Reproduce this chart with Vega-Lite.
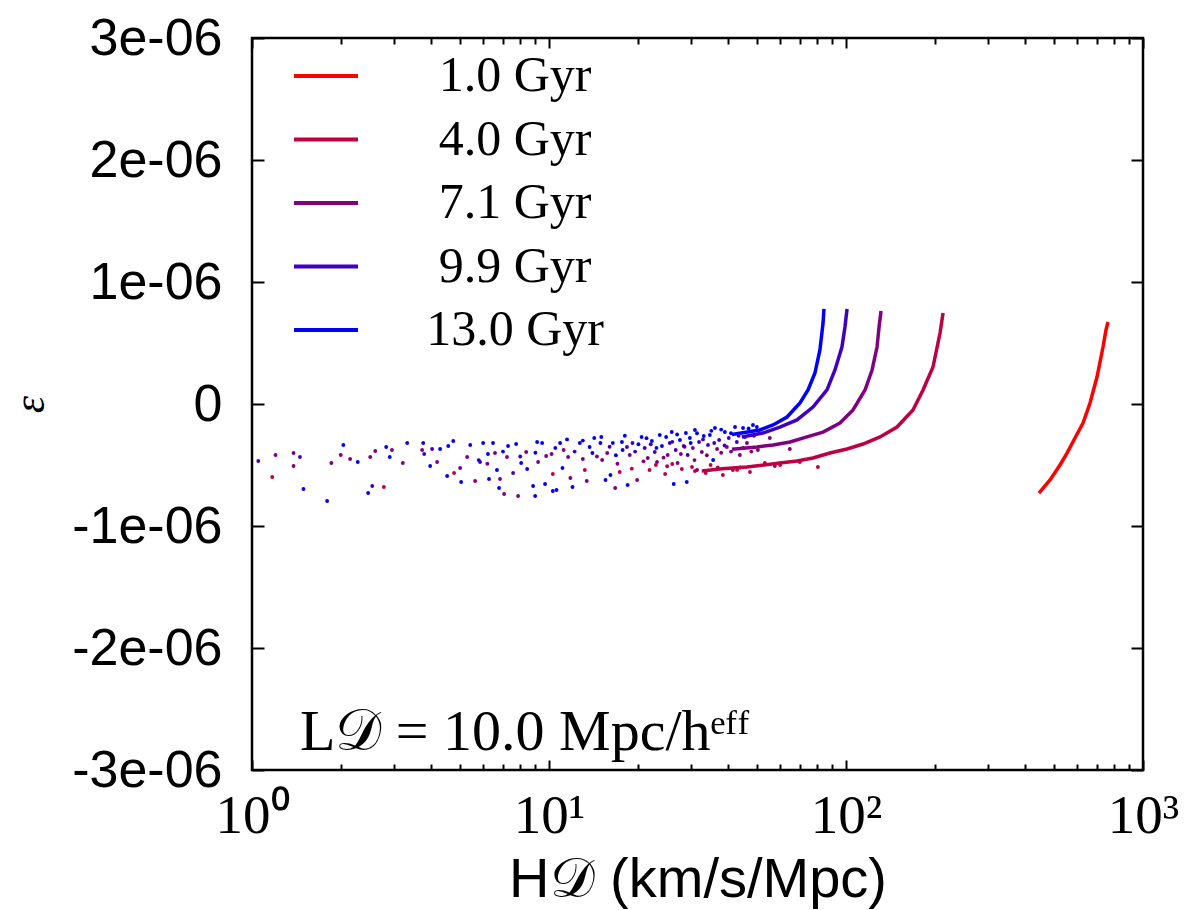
{
  "$schema": "https://vega.github.io/schema/vega-lite/v6.json",
  "width": 891,
  "height": 732,
  "autosize": {"type": "none"},
  "padding": {"left": 252, "top": 38, "right": 43, "bottom": 140},
  "background": "white",
  "config": {
    "font": "Liberation Sans",
    "view": {"stroke": "black", "strokeWidth": 2.5},
    "axis": {"grid": false, "domain": false, "tickColor": "black", "tickWidth": 2, "labelColor": "black", "titleColor": "black"}
  },
  "datasets": {
    "curves": [
      {"age": "1.0 Gyr", "H": 446.3, "eps": -7.30e-7},
      {"age": "1.0 Gyr", "H": 486.3, "eps": -6.23e-7},
      {"age": "1.0 Gyr", "H": 525.5, "eps": -5.00e-7},
      {"age": "1.0 Gyr", "H": 554.8, "eps": -4.02e-7},
      {"age": "1.0 Gyr", "H": 590.2, "eps": -2.79e-7},
      {"age": "1.0 Gyr", "H": 628.1, "eps": -1.56e-7},
      {"age": "1.0 Gyr", "H": 663.1, "eps": 0.08e-7},
      {"age": "1.0 Gyr", "H": 700.0, "eps": 2.21e-7},
      {"age": "1.0 Gyr", "H": 716.5, "eps": 3.44e-7},
      {"age": "1.0 Gyr", "H": 733.4, "eps": 4.67e-7},
      {"age": "1.0 Gyr", "H": 750.6, "eps": 6.07e-7},
      {"age": "1.0 Gyr", "H": 762.4, "eps": 6.72e-7},
      {"age": "4.0 Gyr", "H": 32.7, "eps": -5.5e-7},
      {"age": "4.0 Gyr", "H": 38.2, "eps": -5.3e-7},
      {"age": "4.0 Gyr", "H": 46.4, "eps": -5.16e-7},
      {"age": "4.0 Gyr", "H": 59.9, "eps": -4.84e-7},
      {"age": "4.0 Gyr", "H": 68.4, "eps": -4.67e-7},
      {"age": "4.0 Gyr", "H": 77.4, "eps": -4.43e-7},
      {"age": "4.0 Gyr", "H": 88.3, "eps": -4.02e-7},
      {"age": "4.0 Gyr", "H": 100.8, "eps": -3.69e-7},
      {"age": "4.0 Gyr", "H": 114.1, "eps": -3.28e-7},
      {"age": "4.0 Gyr", "H": 130.2, "eps": -2.70e-7},
      {"age": "4.0 Gyr", "H": 148.5, "eps": -1.89e-7},
      {"age": "4.0 Gyr", "H": 168.1, "eps": -0.49e-7},
      {"age": "4.0 Gyr", "H": 181.7, "eps": 1.15e-7},
      {"age": "4.0 Gyr", "H": 196.3, "eps": 3.03e-7},
      {"age": "4.0 Gyr", "H": 207.3, "eps": 5.82e-7},
      {"age": "4.0 Gyr", "H": 212.2, "eps": 7.46e-7},
      {"age": "7.1 Gyr", "H": 41.3, "eps": -3.7e-7},
      {"age": "7.1 Gyr", "H": 50.2, "eps": -3.52e-7},
      {"age": "7.1 Gyr", "H": 56.8, "eps": -3.36e-7},
      {"age": "7.1 Gyr", "H": 64.8, "eps": -3.11e-7},
      {"age": "7.1 Gyr", "H": 73.9, "eps": -2.70e-7},
      {"age": "7.1 Gyr", "H": 83.7, "eps": -2.30e-7},
      {"age": "7.1 Gyr", "H": 95.4, "eps": -1.56e-7},
      {"age": "7.1 Gyr", "H": 105.6, "eps": -0.49e-7},
      {"age": "7.1 Gyr", "H": 115.9, "eps": 1.15e-7},
      {"age": "7.1 Gyr", "H": 122.4, "eps": 2.79e-7},
      {"age": "7.1 Gyr", "H": 127.2, "eps": 4.67e-7},
      {"age": "7.1 Gyr", "H": 129.2, "eps": 6.31e-7},
      {"age": "7.1 Gyr", "H": 131.2, "eps": 7.62e-7},
      {"age": "9.9 Gyr", "H": 44.6, "eps": -2.7e-7},
      {"age": "9.9 Gyr", "H": 52.5, "eps": -2.38e-7},
      {"age": "9.9 Gyr", "H": 59.9, "eps": -1.89e-7},
      {"age": "9.9 Gyr", "H": 68.4, "eps": -1.31e-7},
      {"age": "9.9 Gyr", "H": 77.4, "eps": -0.25e-7},
      {"age": "9.9 Gyr", "H": 86.3, "eps": 1.15e-7},
      {"age": "9.9 Gyr", "H": 91.8, "eps": 2.79e-7},
      {"age": "9.9 Gyr", "H": 96.9, "eps": 4.67e-7},
      {"age": "9.9 Gyr", "H": 99.2, "eps": 6.31e-7},
      {"age": "9.9 Gyr", "H": 100.8, "eps": 7.79e-7},
      {"age": "13.0 Gyr", "H": 41.3, "eps": -2.5e-7},
      {"age": "13.0 Gyr", "H": 51.3, "eps": -2.13e-7},
      {"age": "13.0 Gyr", "H": 56.8, "eps": -1.72e-7},
      {"age": "13.0 Gyr", "H": 63.3, "eps": -1.07e-7},
      {"age": "13.0 Gyr", "H": 70.0, "eps": 0.08e-7},
      {"age": "13.0 Gyr", "H": 74.5, "eps": 1.15e-7},
      {"age": "13.0 Gyr", "H": 78.6, "eps": 2.54e-7},
      {"age": "13.0 Gyr", "H": 81.7, "eps": 4.43e-7},
      {"age": "13.0 Gyr", "H": 83.7, "eps": 6.64e-7},
      {"age": "13.0 Gyr", "H": 84.3, "eps": 7.79e-7}
    ],
    "scatter": [
      {"age": "9.9 Gyr", "H": 1.05, "eps": -4.67e-7},
      {"age": "4.0 Gyr", "H": 1.17, "eps": -5.98e-7},
      {"age": "7.1 Gyr", "H": 1.20, "eps": -4.18e-7},
      {"age": "7.1 Gyr", "H": 1.38, "eps": -4.02e-7},
      {"age": "7.1 Gyr", "H": 1.38, "eps": -5.08e-7},
      {"age": "9.9 Gyr", "H": 1.45, "eps": -4.34e-7},
      {"age": "13.0 Gyr", "H": 1.49, "eps": -6.97e-7},
      {"age": "13.0 Gyr", "H": 1.79, "eps": -7.95e-7},
      {"age": "7.1 Gyr", "H": 1.85, "eps": -4.84e-7},
      {"age": "7.1 Gyr", "H": 1.99, "eps": -4.18e-7},
      {"age": "13.0 Gyr", "H": 2.03, "eps": -3.36e-7},
      {"age": "7.1 Gyr", "H": 2.14, "eps": -4.51e-7},
      {"age": "13.0 Gyr", "H": 2.27, "eps": -4.75e-7},
      {"age": "13.0 Gyr", "H": 2.46, "eps": -7.30e-7},
      {"age": "7.1 Gyr", "H": 2.50, "eps": -4.34e-7},
      {"age": "9.9 Gyr", "H": 2.54, "eps": -6.72e-7},
      {"age": "7.1 Gyr", "H": 2.60, "eps": -3.85e-7},
      {"age": "4.0 Gyr", "H": 2.78, "eps": -6.80e-7},
      {"age": "13.0 Gyr", "H": 2.83, "eps": -3.52e-7},
      {"age": "13.0 Gyr", "H": 2.91, "eps": -4.34e-7},
      {"age": "7.1 Gyr", "H": 2.96, "eps": -3.77e-7},
      {"age": "7.1 Gyr", "H": 3.22, "eps": -4.84e-7},
      {"age": "13.0 Gyr", "H": 3.33, "eps": -3.20e-7},
      {"age": "7.1 Gyr", "H": 3.74, "eps": -3.77e-7},
      {"age": "13.0 Gyr", "H": 3.77, "eps": -3.20e-7},
      {"age": "9.9 Gyr", "H": 3.80, "eps": -4.10e-7},
      {"age": "13.0 Gyr", "H": 3.98, "eps": -5.08e-7},
      {"age": "9.9 Gyr", "H": 4.04, "eps": -3.69e-7},
      {"age": "7.1 Gyr", "H": 4.20, "eps": -4.75e-7},
      {"age": "13.0 Gyr", "H": 4.30, "eps": -3.69e-7},
      {"age": "13.0 Gyr", "H": 4.54, "eps": -5.90e-7},
      {"age": "13.0 Gyr", "H": 4.58, "eps": -3.44e-7},
      {"age": "13.0 Gyr", "H": 4.76, "eps": -3.03e-7},
      {"age": "4.0 Gyr", "H": 4.79, "eps": -5.66e-7},
      {"age": "7.1 Gyr", "H": 5.02, "eps": -5.25e-7},
      {"age": "13.0 Gyr", "H": 5.06, "eps": -6.39e-7},
      {"age": "7.1 Gyr", "H": 5.30, "eps": -4.34e-7},
      {"age": "13.0 Gyr", "H": 5.43, "eps": -3.36e-7},
      {"age": "7.1 Gyr", "H": 5.64, "eps": -6.31e-7},
      {"age": "13.0 Gyr", "H": 5.80, "eps": -4.60e-7},
      {"age": "9.9 Gyr", "H": 5.86, "eps": -4.75e-7},
      {"age": "13.0 Gyr", "H": 6.00, "eps": -3.20e-7},
      {"age": "7.1 Gyr", "H": 6.20, "eps": -4.90e-7},
      {"age": "13.0 Gyr", "H": 6.23, "eps": -4.10e-7},
      {"age": "13.0 Gyr", "H": 6.28, "eps": -6.15e-7},
      {"age": "13.0 Gyr", "H": 6.48, "eps": -3.20e-7},
      {"age": "7.1 Gyr", "H": 6.58, "eps": -4.02e-7},
      {"age": "13.0 Gyr", "H": 6.68, "eps": -5.41e-7},
      {"age": "13.0 Gyr", "H": 6.79, "eps": -6.89e-7},
      {"age": "7.1 Gyr", "H": 6.84, "eps": -6.15e-7},
      {"age": "13.0 Gyr", "H": 7.00, "eps": -3.90e-7},
      {"age": "7.1 Gyr", "H": 7.06, "eps": -7.38e-7},
      {"age": "7.1 Gyr", "H": 7.22, "eps": -4.34e-7},
      {"age": "13.0 Gyr", "H": 7.28, "eps": -3.44e-7},
      {"age": "9.9 Gyr", "H": 7.57, "eps": -5.66e-7},
      {"age": "13.0 Gyr", "H": 7.75, "eps": -3.28e-7},
      {"age": "7.1 Gyr", "H": 7.87, "eps": -7.54e-7},
      {"age": "9.9 Gyr", "H": 8.00, "eps": -4.30e-7},
      {"age": "13.0 Gyr", "H": 8.06, "eps": -4.84e-7},
      {"age": "7.1 Gyr", "H": 8.38, "eps": -3.93e-7},
      {"age": "13.0 Gyr", "H": 8.44, "eps": -5.33e-7},
      {"age": "13.0 Gyr", "H": 8.84, "eps": -6.72e-7},
      {"age": "13.0 Gyr", "H": 8.98, "eps": -7.54e-7},
      {"age": "13.0 Gyr", "H": 9.00, "eps": -4.00e-7},
      {"age": "13.0 Gyr", "H": 9.12, "eps": -3.11e-7},
      {"age": "7.1 Gyr", "H": 9.19, "eps": -4.75e-7},
      {"age": "13.0 Gyr", "H": 9.48, "eps": -3.20e-7},
      {"age": "13.0 Gyr", "H": 9.70, "eps": -6.56e-7},
      {"age": "7.1 Gyr", "H": 9.78, "eps": -4.26e-7},
      {"age": "7.1 Gyr", "H": 10.2, "eps": -4.10e-7},
      {"age": "13.0 Gyr", "H": 10.3, "eps": -7.13e-7},
      {"age": "4.0 Gyr", "H": 10.3, "eps": -5.74e-7},
      {"age": "13.0 Gyr", "H": 10.5, "eps": -3.60e-7},
      {"age": "13.0 Gyr", "H": 10.6, "eps": -7.05e-7},
      {"age": "13.0 Gyr", "H": 10.9, "eps": -3.20e-7},
      {"age": "13.0 Gyr", "H": 11.1, "eps": -5.25e-7},
      {"age": "7.1 Gyr", "H": 11.2, "eps": -3.77e-7},
      {"age": "13.0 Gyr", "H": 11.5, "eps": -2.90e-7},
      {"age": "7.1 Gyr", "H": 11.6, "eps": -4.34e-7},
      {"age": "7.1 Gyr", "H": 11.8, "eps": -6.07e-7},
      {"age": "13.0 Gyr", "H": 12.0, "eps": -6.80e-7},
      {"age": "9.9 Gyr", "H": 12.2, "eps": -3.90e-7},
      {"age": "13.0 Gyr", "H": 12.7, "eps": -3.20e-7},
      {"age": "7.1 Gyr", "H": 13.0, "eps": -4.51e-7},
      {"age": "13.0 Gyr", "H": 13.0, "eps": -3.00e-7},
      {"age": "4.0 Gyr", "H": 13.2, "eps": -5.41e-7},
      {"age": "7.1 Gyr", "H": 13.4, "eps": -6.31e-7},
      {"age": "13.0 Gyr", "H": 13.7, "eps": -3.52e-7},
      {"age": "13.0 Gyr", "H": 14.0, "eps": -4.02e-7},
      {"age": "13.0 Gyr", "H": 14.2, "eps": -2.79e-7},
      {"age": "7.1 Gyr", "H": 14.5, "eps": -4.30e-7},
      {"age": "13.0 Gyr", "H": 14.9, "eps": -3.20e-7},
      {"age": "13.0 Gyr", "H": 15.0, "eps": -2.70e-7},
      {"age": "7.1 Gyr", "H": 15.1, "eps": -4.59e-7},
      {"age": "13.0 Gyr", "H": 15.5, "eps": -6.23e-7},
      {"age": "7.1 Gyr", "H": 15.7, "eps": -4.02e-7},
      {"age": "9.9 Gyr", "H": 16.0, "eps": -3.50e-7},
      {"age": "13.0 Gyr", "H": 16.1, "eps": -5.82e-7},
      {"age": "13.0 Gyr", "H": 16.4, "eps": -3.20e-7},
      {"age": "7.1 Gyr", "H": 16.7, "eps": -6.89e-7},
      {"age": "13.0 Gyr", "H": 16.8, "eps": -4.20e-7},
      {"age": "7.1 Gyr", "H": 17.0, "eps": -4.90e-7},
      {"age": "4.0 Gyr", "H": 17.3, "eps": -5.57e-7},
      {"age": "13.0 Gyr", "H": 17.6, "eps": -3.11e-7},
      {"age": "13.0 Gyr", "H": 17.7, "eps": -3.77e-7},
      {"age": "13.0 Gyr", "H": 18.0, "eps": -2.60e-7},
      {"age": "9.9 Gyr", "H": 18.3, "eps": -3.52e-7},
      {"age": "13.0 Gyr", "H": 18.4, "eps": -6.64e-7},
      {"age": "7.1 Gyr", "H": 18.7, "eps": -4.18e-7},
      {"age": "4.0 Gyr", "H": 19.0, "eps": -5.30e-7},
      {"age": "9.9 Gyr", "H": 19.1, "eps": -3.20e-7},
      {"age": "9.9 Gyr", "H": 19.5, "eps": -3.90e-7},
      {"age": "7.1 Gyr", "H": 19.8, "eps": -6.23e-7},
      {"age": "13.0 Gyr", "H": 20.0, "eps": -3.30e-7},
      {"age": "13.0 Gyr", "H": 20.5, "eps": -2.70e-7},
      {"age": "7.1 Gyr", "H": 20.8, "eps": -4.70e-7},
      {"age": "9.9 Gyr", "H": 21.0, "eps": -3.61e-7},
      {"age": "13.0 Gyr", "H": 21.3, "eps": -2.80e-7},
      {"age": "7.1 Gyr", "H": 21.5, "eps": -4.43e-7},
      {"age": "4.0 Gyr", "H": 21.8, "eps": -5.41e-7},
      {"age": "9.9 Gyr", "H": 22.0, "eps": -3.30e-7},
      {"age": "13.0 Gyr", "H": 22.2, "eps": -3.03e-7},
      {"age": "9.9 Gyr", "H": 22.7, "eps": -3.93e-7},
      {"age": "4.0 Gyr", "H": 22.9, "eps": -5.0e-7},
      {"age": "13.0 Gyr", "H": 23.0, "eps": -3.60e-7},
      {"age": "7.1 Gyr", "H": 23.1, "eps": -4.75e-7},
      {"age": "13.0 Gyr", "H": 23.6, "eps": -2.54e-7},
      {"age": "13.0 Gyr", "H": 24.0, "eps": -3.44e-7},
      {"age": "7.1 Gyr", "H": 24.3, "eps": -4.40e-7},
      {"age": "4.0 Gyr", "H": 24.6, "eps": -5.74e-7},
      {"age": "13.0 Gyr", "H": 24.8, "eps": -2.70e-7},
      {"age": "4.0 Gyr", "H": 25.0, "eps": -5.10e-7},
      {"age": "7.1 Gyr", "H": 25.1, "eps": -4.18e-7},
      {"age": "9.9 Gyr", "H": 25.5, "eps": -3.20e-7},
      {"age": "13.0 Gyr", "H": 25.9, "eps": -2.30e-7},
      {"age": "4.0 Gyr", "H": 26.0, "eps": -4.92e-7},
      {"age": "9.9 Gyr", "H": 26.0, "eps": -3.10e-7},
      {"age": "13.0 Gyr", "H": 26.3, "eps": -6.56e-7},
      {"age": "9.9 Gyr", "H": 26.7, "eps": -3.77e-7},
      {"age": "13.0 Gyr", "H": 27.0, "eps": -2.50e-7},
      {"age": "7.1 Gyr", "H": 27.1, "eps": -4.84e-7},
      {"age": "13.0 Gyr", "H": 27.6, "eps": -2.95e-7},
      {"age": "7.1 Gyr", "H": 27.8, "eps": -4.10e-7},
      {"age": "4.0 Gyr", "H": 28.0, "eps": -5.33e-7},
      {"age": "7.1 Gyr", "H": 28.4, "eps": -3.44e-7},
      {"age": "9.9 Gyr", "H": 28.6, "eps": -3.50e-7},
      {"age": "13.0 Gyr", "H": 28.9, "eps": -2.38e-7},
      {"age": "13.0 Gyr", "H": 29.1, "eps": -6.39e-7},
      {"age": "9.9 Gyr", "H": 29.3, "eps": -4.18e-7},
      {"age": "13.0 Gyr", "H": 29.8, "eps": -2.79e-7},
      {"age": "13.0 Gyr", "H": 30.0, "eps": -3.20e-7},
      {"age": "4.0 Gyr", "H": 30.3, "eps": -5.16e-7},
      {"age": "7.1 Gyr", "H": 30.5, "eps": -3.61e-7},
      {"age": "7.1 Gyr", "H": 30.9, "eps": -4.60e-7},
      {"age": "13.0 Gyr", "H": 31.0, "eps": -2.13e-7},
      {"age": "4.0 Gyr", "H": 31.0, "eps": -5.50e-7},
      {"age": "7.1 Gyr", "H": 31.5, "eps": -5.41e-7},
      {"age": "13.0 Gyr", "H": 31.5, "eps": -2.40e-7},
      {"age": "9.9 Gyr", "H": 32.0, "eps": -3.11e-7},
      {"age": "7.1 Gyr", "H": 32.7, "eps": -3.93e-7},
      {"age": "9.9 Gyr", "H": 33.0, "eps": -2.90e-7},
      {"age": "13.0 Gyr", "H": 33.2, "eps": -2.62e-7},
      {"age": "4.0 Gyr", "H": 33.7, "eps": -5.66e-7},
      {"age": "7.1 Gyr", "H": 34.0, "eps": -4.20e-7},
      {"age": "9.9 Gyr", "H": 34.3, "eps": -3.36e-7},
      {"age": "13.0 Gyr", "H": 34.8, "eps": -2.54e-7},
      {"age": "4.0 Gyr", "H": 35.0, "eps": -5.0e-7},
      {"age": "13.0 Gyr", "H": 35.2, "eps": -2.20e-7},
      {"age": "13.0 Gyr", "H": 35.7, "eps": -4.59e-7},
      {"age": "9.9 Gyr", "H": 36.0, "eps": -3.20e-7},
      {"age": "13.0 Gyr", "H": 36.2, "eps": -1.97e-7},
      {"age": "7.1 Gyr", "H": 36.8, "eps": -3.69e-7},
      {"age": "4.0 Gyr", "H": 37.0, "eps": -5.20e-7},
      {"age": "9.9 Gyr", "H": 37.4, "eps": -2.95e-7},
      {"age": "7.1 Gyr", "H": 38.0, "eps": -4.00e-7},
      {"age": "13.0 Gyr", "H": 38.0, "eps": -2.10e-7},
      {"age": "4.0 Gyr", "H": 38.5, "eps": -5.82e-7},
      {"age": "9.9 Gyr", "H": 39.0, "eps": -3.40e-7},
      {"age": "13.0 Gyr", "H": 39.1, "eps": -2.30e-7},
      {"age": "7.1 Gyr", "H": 39.7, "eps": -3.52e-7},
      {"age": "9.9 Gyr", "H": 40.3, "eps": -2.79e-7},
      {"age": "7.1 Gyr", "H": 41.0, "eps": -3.90e-7},
      {"age": "13.0 Gyr", "H": 41.0, "eps": -2.40e-7},
      {"age": "4.0 Gyr", "H": 41.6, "eps": -5.41e-7},
      {"age": "13.0 Gyr", "H": 42.3, "eps": -1.89e-7},
      {"age": "9.9 Gyr", "H": 42.9, "eps": -3.11e-7},
      {"age": "4.0 Gyr", "H": 43.0, "eps": -5.40e-7},
      {"age": "9.9 Gyr", "H": 43.5, "eps": -2.60e-7},
      {"age": "7.1 Gyr", "H": 43.9, "eps": -4.18e-7},
      {"age": "4.0 Gyr", "H": 44.0, "eps": -5.2e-7},
      {"age": "13.0 Gyr", "H": 45.0, "eps": -1.97e-7},
      {"age": "7.1 Gyr", "H": 45.0, "eps": -3.60e-7},
      {"age": "9.9 Gyr", "H": 45.7, "eps": -2.70e-7},
      {"age": "7.1 Gyr", "H": 46.4, "eps": -3.20e-7},
      {"age": "13.0 Gyr", "H": 47.0, "eps": -2.00e-7},
      {"age": "4.0 Gyr", "H": 47.5, "eps": -5.57e-7},
      {"age": "7.1 Gyr", "H": 48.0, "eps": -3.90e-7},
      {"age": "13.0 Gyr", "H": 48.6, "eps": -1.72e-7},
      {"age": "9.9 Gyr", "H": 49.0, "eps": -2.60e-7},
      {"age": "13.0 Gyr", "H": 50.1, "eps": -1.89e-7},
      {"age": "7.1 Gyr", "H": 50.5, "eps": -3.77e-7},
      {"age": "4.0 Gyr", "H": 53.3, "eps": -4.84e-7},
      {"age": "7.1 Gyr", "H": 55.4, "eps": -2.79e-7},
      {"age": "4.0 Gyr", "H": 57.6, "eps": -5.08e-7},
      {"age": "4.0 Gyr", "H": 60.0, "eps": -5.0e-7},
      {"age": "7.1 Gyr", "H": 64.7, "eps": -3.69e-7},
      {"age": "4.0 Gyr", "H": 69.9, "eps": -4.75e-7},
      {"age": "4.0 Gyr", "H": 80.4, "eps": -5.16e-7}
    ],
    "note": [{"H": 1.45, "eps": -2.836e-6, "label": "L𝒟 = 10.0 Mpc/hᵉᶠᶠ"}]
  },
  "resolve": {"axis": {"x": "independent", "y": "independent"}},
  "layer": [
    {
      "data": {"name": "curves"},
      "mark": {"type": "line", "strokeWidth": 3.5},
      "encoding": {
        "x": {"field": "H", "type": "quantitative", "scale": {"type": "log", "domain": [1, 1000]},
          "axis": {"orient": "bottom", "values": [1, 10, 100, 1000], "tickSize": -10,
            "labelExpr": "datum.value == 1 ? '10⁰' : datum.value == 10 ? '10¹' : datum.value == 100 ? '10²' : '10³'",
            "labelFont": "Liberation Serif", "labelFontSize": 55, "labelPadding": 72, "labelBaseline": "alphabetic", "labelFlush": false,
            "title": "H𝒟 (km/s/Mpc)", "titleFont": "Liberation Sans", "titleFontSize": 56, "titleFontWeight": "normal", "titleY": 126, "titleBaseline": "alphabetic"}},
        "y": {"field": "eps", "type": "quantitative", "scale": {"domain": [-3e-6, 3e-6]},
          "axis": {"orient": "left", "values": [-3e-6, -2e-6, -1e-6, 0, 1e-6, 2e-6, 3e-6], "tickSize": -12,
            "labelExpr": "datum.value == 0 ? '0' : (datum.value < 0 ? '-' : '') + format(round(abs(datum.value) * 1e6), 'd') + 'e-06'",
            "labelFont": "Liberation Sans", "labelFontSize": 52, "labelPadding": 42, "labelFlush": false,
            "title": "ε", "titleFont": "Liberation Serif", "titleFontStyle": "italic", "titleFontSize": 44, "titleFontWeight": "normal",
            "titleX": -222, "titleY": 366, "titleAlign": "center", "titleBaseline": "middle"}},
        "color": {"field": "age", "type": "nominal",
          "scale": {"domain": ["1.0 Gyr", "4.0 Gyr", "7.1 Gyr", "9.9 Gyr", "13.0 Gyr"], "range": ["#ff0000", "#bf0040", "#800080", "#4000bf", "#0000ff"]},
          "legend": {"orient": "none", "legendX": 40, "legendY": 4, "title": null, "symbolType": "stroke", "symbolSize": 4096, "symbolStrokeWidth": 4,
            "labelFont": "Liberation Serif", "labelFontSize": 50, "labelColor": "black", "labelAlign": "center", "labelOffset": 155, "labelLimit": 500, "rowPadding": 4.5, "padding": 0}}
      }
    },
    {
      "data": {"name": "scatter"},
      "mark": {"type": "circle", "size": 15, "opacity": 1},
      "encoding": {
        "x": {"field": "H", "type": "quantitative", "scale": {"type": "log", "domain": [1, 1000]},
          "axis": {"orient": "top", "values": [1, 10, 100, 1000], "tickSize": -10, "labels": false, "title": null}},
        "y": {"field": "eps", "type": "quantitative", "scale": {"domain": [-3e-6, 3e-6]},
          "axis": {"orient": "right", "values": [-3e-6, -2e-6, -1e-6, 0, 1e-6, 2e-6, 3e-6], "tickSize": -12, "labels": false, "title": null}},
        "fill": {"field": "age", "type": "nominal",
          "scale": {"domain": ["1.0 Gyr", "4.0 Gyr", "7.1 Gyr", "9.9 Gyr", "13.0 Gyr"], "range": ["#ff0000", "#bf0040", "#800080", "#4000bf", "#0000ff"]},
          "legend": null}
      }
    },
    {
      "data": {"name": "note"},
      "mark": {"type": "text", "align": "left", "baseline": "alphabetic", "font": "Liberation Serif", "fontSize": 58, "color": "black"},
      "encoding": {
        "x": {"field": "H", "type": "quantitative", "scale": {"type": "log", "domain": [1, 1000]},
          "axis": {"orient": "bottom", "values": [2, 3, 4, 5, 6, 7, 8, 9, 20, 30, 40, 50, 60, 70, 80, 90, 200, 300, 400, 500, 600, 700, 800, 900], "tickSize": -6, "labels": false, "title": null}},
        "y": {"field": "eps", "type": "quantitative", "scale": {"domain": [-3e-6, 3e-6]}, "axis": null},
        "text": {"field": "label"}
      }
    },
    {
      "data": {"name": "note"},
      "mark": {"type": "text", "opacity": 0},
      "encoding": {
        "x": {"field": "H", "type": "quantitative", "scale": {"type": "log", "domain": [1, 1000]},
          "axis": {"orient": "top", "values": [2, 3, 4, 5, 6, 7, 8, 9, 20, 30, 40, 50, 60, 70, 80, 90, 200, 300, 400, 500, 600, 700, 800, 900], "tickSize": -6, "labels": false, "title": null}},
        "y": {"field": "eps", "type": "quantitative", "scale": {"domain": [-3e-6, 3e-6]}, "axis": null},
        "text": {"value": ""}
      }
    }
  ]
}
